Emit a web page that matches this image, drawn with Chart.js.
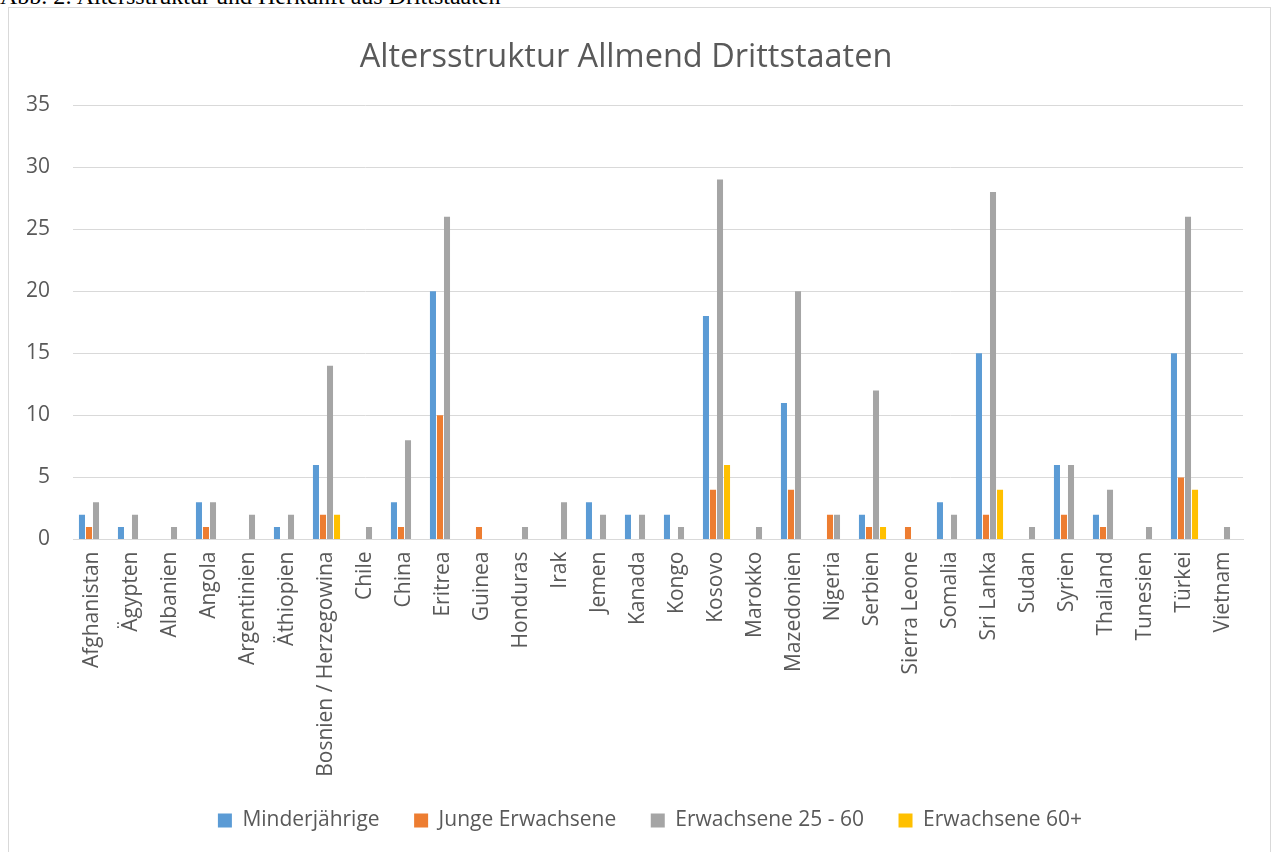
<!DOCTYPE html>
<html>
<head>
<meta charset="utf-8">
<script src="https://cdn.jsdelivr.net/npm/chart.js@4"></script>
<style>
  body { margin: 0; background: #fff; overflow: hidden; }
  #caption { position: absolute; left: 0; top: -17px; font-family: "Liberation Serif", serif; font-size: 24px; color: #000; white-space: nowrap; }
  #box { position: absolute; left: 8px; top: 7px; width: 1261px; height: 860px; border: 1px solid #d9d9d9; }
</style>
</head>
<body>
<div id="caption">Abb. 2: Altersstruktur und Herkunft aus Drittstaaten</div>
<div id="box"><canvas id="myChart"></canvas></div>
<script>
const countries = ["Afghanistan", "Ägypten", "Albanien", "Angola", "Argentinien", "Äthiopien",
  "Bosnien / Herzegowina", "Chile", "China", "Eritrea", "Guinea", "Honduras", "Irak", "Jemen",
  "Kanada", "Kongo", "Kosovo", "Marokko", "Mazedonien", "Nigeria", "Serbien", "Sierra Leone",
  "Somalia", "Sri Lanka", "Sudan", "Syrien", "Thailand", "Tunesien", "Türkei", "Vietnam"];

const minderjaehrige = [2, 1, 0, 3, 0, 1, 6, 0, 3, 20, 0, 0, 0, 3, 2, 2, 18, 0, 11, 0, 2, 0, 3, 15, 0, 6, 2, 0, 15, 0];
const jungeErwachsene = [1, 0, 0, 1, 0, 0, 2, 0, 1, 10, 1, 0, 0, 0, 0, 0, 4, 0, 4, 2, 1, 1, 0, 2, 0, 2, 1, 0, 5, 0];
const erwachsene2560 = [3, 2, 1, 3, 2, 2, 14, 1, 8, 26, 0, 1, 3, 2, 2, 1, 29, 1, 20, 2, 12, 0, 2, 28, 1, 6, 4, 1, 26, 1];
const erwachsene60 = [0, 0, 0, 0, 0, 0, 2, 0, 0, 0, 0, 0, 0, 0, 0, 0, 6, 0, 0, 0, 1, 0, 0, 4, 0, 0, 0, 0, 4, 0];

const textColor = "#595959";
const font = "Open Sans";

const ctx = document.getElementById("myChart");
ctx.width = 1261;
ctx.height = 860;

// legend sits a bit right of the plot centre (and tucked up) in the original
const shiftLegend = {
  id: "shiftLegend",
  afterLayout(chart) {
    chart.legend.left += 24;
    chart.legend.right += 24;
    chart.legend.top -= 9;
    chart.legend.bottom -= 9;
  },
};

const myChart = new Chart(ctx, {
  type: "bar",
  data: {
    labels: countries,
    datasets: [
      { label: "Minderjährige", data: minderjaehrige, backgroundColor: "#5B9BD5" },
      { label: "Junge Erwachsene", data: jungeErwachsene, backgroundColor: "#ED7D31" },
      { label: "Erwachsene 25 - 60", data: erwachsene2560, backgroundColor: "#A5A5A5" },
      { label: "Erwachsene 60+", data: erwachsene60, backgroundColor: "#FFC000" },
    ],
  },
  plugins: [shiftLegend],
  options: {
    responsive: false,
    animation: false,
    datasets: { bar: { barPercentage: 0.86, categoryPercentage: 0.72 } },
    layout: { padding: { left: 0, right: 27, top: 0, bottom: 18 } },
    plugins: {
      tooltip: { enabled: false },
      title: {
        display: true,
        text: "Altersstruktur Allmend Drittstaaten",
        color: textColor,
        font: { family: font, size: 32.5, weight: "normal" },
        padding: { top: 30, bottom: 28 },
      },
      legend: {
        position: "bottom",
        labels: {
          color: textColor,
          font: { family: font, size: 21 },
          boxWidth: 14,
          boxHeight: 14,
          padding: 34.5,
        },
      },
    },
    scales: {
      x: {
        grid: { display: false, drawTicks: false },
        border: { color: "#d9d9d9", width: 1 },
        ticks: {
          color: textColor,
          font: { family: font, size: 21 },
          minRotation: 90,
          maxRotation: 90,
          autoSkip: false,
          padding: 12,
        },
        afterFit: (s) => { s.height = 245; },
      },
      y: {
        min: 0,
        max: 35,
        grid: { color: "#d9d9d9", drawTicks: false },
        border: { display: false },
        ticks: {
          stepSize: 5,
          color: textColor,
          font: { family: font, size: 21 },
          padding: 23,
        },
        afterFit: (s) => { s.width = 64; },
      },
    },
  },
});
</script>
</body>
</html>
